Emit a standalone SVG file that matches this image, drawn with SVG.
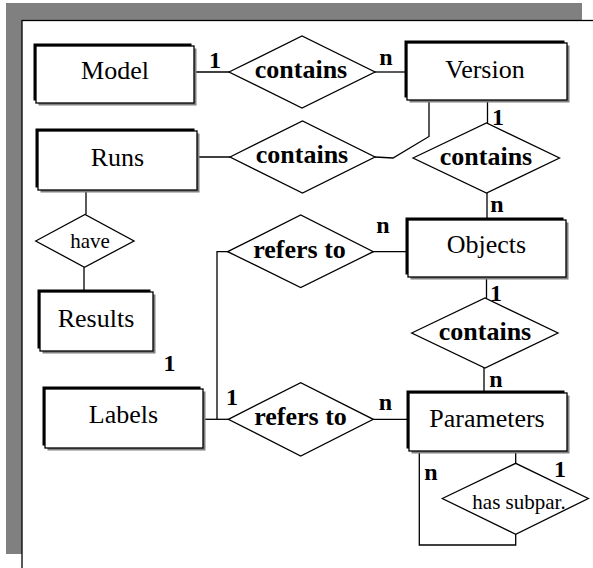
<svg xmlns="http://www.w3.org/2000/svg" width="593" height="568" viewBox="0 0 593 568">
<style>
.sh{fill:#808080}
.bk{fill:#000}
.ent{fill:#fff;stroke:#000;stroke-width:1.3}
.dia{fill:#fff;stroke:#000;stroke-width:1.3}
.ln{fill:none;stroke:#000;stroke-width:1.3}
.et{font-family:"Liberation Serif","Times New Roman",serif;font-size:26px;text-anchor:middle;fill:#000}
.rt{font-family:"Liberation Serif","Times New Roman",serif;font-size:26px;font-weight:bold;text-anchor:middle;fill:#000}
.st{font-family:"Liberation Serif","Times New Roman",serif;font-size:21px;text-anchor:middle;fill:#000}
.lb{font-family:"Liberation Serif","Times New Roman",serif;font-size:24px;font-weight:bold;text-anchor:middle;fill:#000}
</style>
<rect x="6" y="3" width="576" height="551" fill="#808080"/>
<rect x="22" y="20.5" width="600" height="600" fill="#fff" stroke="#000" stroke-width="1.3"/>
<g id="connectors">
<line class="ln" x1="194" y1="72" x2="229" y2="72"/>
<line class="ln" x1="375" y1="72" x2="407" y2="72"/>
<line class="ln" x1="197" y1="157" x2="230" y2="157"/>
<polyline class="ln" points="375,157 393,158 429,136.5 429,102"/>
<line class="ln" x1="487.5" y1="102" x2="487.5" y2="123"/>
<line class="ln" x1="487" y1="193" x2="487" y2="220"/>
<line class="ln" x1="486.5" y1="278" x2="486.5" y2="298"/>
<line class="ln" x1="484" y1="368" x2="484" y2="393"/>
<line class="ln" x1="373" y1="251.7" x2="408" y2="251.7"/>
<polyline class="ln" points="228,251.7 217,251.7 217,419.3"/>
<line class="ln" x1="203" y1="419.3" x2="228.3" y2="419.3"/>
<line class="ln" x1="373.3" y1="419.3" x2="409" y2="419.3"/>
<line class="ln" x1="86" y1="191" x2="86" y2="214.5"/>
<line class="ln" x1="84" y1="267.3" x2="84" y2="292"/>
<line class="ln" x1="515.7" y1="452" x2="515.7" y2="463.3"/>
<polyline class="ln" points="419.3,452 419.3,545 515.7,545 515.7,534.3"/>
</g>
<g id="model">
<rect class="sh" x="38.5" y="48.5" width="158" height="57"/>
<rect class="bk" x="33.5" y="43.5" width="158" height="57"/>
<rect class="ent" x="36" y="46" width="158" height="57"/>
<text class="et" x="115" y="79">Model</text>
</g>
<g id="runs">
<rect class="sh" x="40.5" y="133.5" width="159" height="59"/>
<rect class="bk" x="35.5" y="128.5" width="159" height="59"/>
<rect class="ent" x="38" y="131" width="159" height="59"/>
<text class="et" x="117.5" y="166">Runs</text>
</g>
<g id="version">
<rect class="sh" x="409.5" y="45.5" width="160" height="57"/>
<rect class="bk" x="404.5" y="40.5" width="160" height="57"/>
<rect class="ent" x="407" y="43" width="160" height="57"/>
<text class="et" x="485" y="78">Version</text>
</g>
<g id="objects">
<rect class="sh" x="410.5" y="222.5" width="158" height="57"/>
<rect class="bk" x="405.5" y="217.5" width="158" height="57"/>
<rect class="ent" x="408" y="220" width="158" height="57"/>
<text class="et" x="486.5" y="253">Objects</text>
</g>
<g id="parameters">
<rect class="sh" x="411.5" y="395.5" width="158" height="58"/>
<rect class="bk" x="406.5" y="390.5" width="158" height="58"/>
<rect class="ent" x="409" y="393" width="158" height="58"/>
<text class="et" x="487" y="427">Parameters</text>
</g>
<g id="results">
<rect class="sh" x="42.5" y="294.5" width="113" height="59"/>
<rect class="bk" x="37.5" y="289.5" width="113" height="59"/>
<rect class="ent" x="40" y="292" width="113" height="59"/>
<text class="et" x="96" y="327">Results</text>
</g>
<g id="labels">
<rect class="sh" x="47.5" y="391.5" width="158" height="59"/>
<rect class="bk" x="42.5" y="386.5" width="158" height="59"/>
<rect class="ent" x="45" y="389" width="158" height="59"/>
<text class="et" x="123.5" y="423">Labels</text>
</g>
<g id="contains-model-version">
<polygon class="dia" points="229,72 302,36 375,72 302,108"/>
<text class="rt" x="301" y="78">contains</text>
</g>
<g id="contains-runs-version">
<polygon class="dia" points="230,157 302.5,121 375,157 302.5,193"/>
<text class="rt" x="302" y="163">contains</text>
</g>
<g id="contains-version-objects">
<polygon class="dia" points="413,158 486.5,123 559.5,158 486.5,193"/>
<text class="rt" x="486" y="165">contains</text>
</g>
<g id="contains-objects-parameters">
<polygon class="dia" points="411.7,333 485,298 558,333 485,368"/>
<text class="rt" x="485" y="340">contains</text>
</g>
<g id="refers-objects">
<polygon class="dia" points="227.7,251.7 300.7,215 373.3,251.7 300.7,287.5"/>
<text class="rt" x="299.5" y="257.5">refers to</text>
</g>
<g id="refers-labels">
<polygon class="dia" points="228.3,419.3 300.7,382.7 373.3,419.3 300.7,456"/>
<text class="rt" x="300.5" y="425">refers to</text>
</g>
<g id="have">
<polygon class="dia" points="35.7,241 85,214.5 134,241 84.5,267.3"/>
<text class="st" x="90" y="248">have</text>
</g>
<g id="has-subpar">
<polygon class="dia" points="442.3,498.5 515.7,463.3 588.3,498.5 515.7,534.3"/>
<text class="st" x="519" y="509">has subpar.</text>
</g>
<g id="cardinalities">
<text class="lb" x="215" y="68">1</text>
<text class="lb" x="386" y="65">n</text>
<text class="lb" x="498" y="125">1</text>
<text class="lb" x="497" y="212">n</text>
<text class="lb" x="383" y="233">n</text>
<text class="lb" x="496" y="301">1</text>
<text class="lb" x="496" y="387">n</text>
<text class="lb" x="169.5" y="371">1</text>
<text class="lb" x="232" y="405">1</text>
<text class="lb" x="385.5" y="410">n</text>
<text class="lb" x="560" y="477">1</text>
<text class="lb" x="431" y="480">n</text>
</g>
</svg>
